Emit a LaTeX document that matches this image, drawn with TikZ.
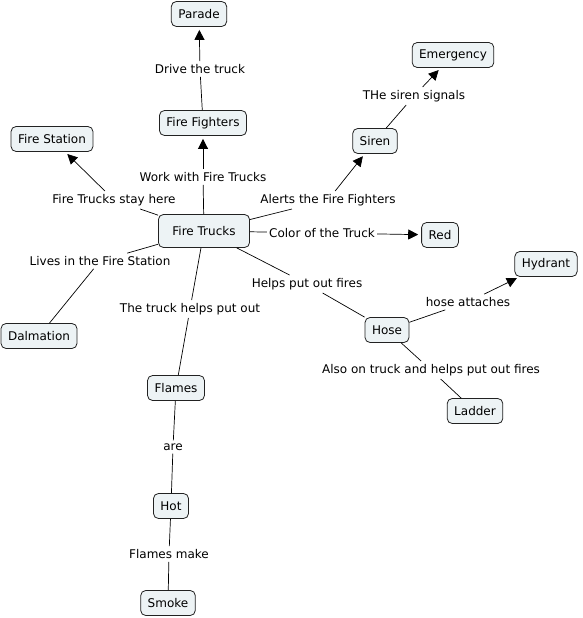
\documentclass[tikz,border=0pt]{standalone}
\usepackage{fontspec}
\setmainfont{DejaVu Sans}
\usetikzlibrary{arrows.meta}
\definecolor{boxfill}{HTML}{EDF3F5}
\definecolor{boxline}{HTML}{222222}
\tikzset{
  concept/.style={draw=boxline, fill=boxfill, rounded corners=5pt, line width=0.8pt,
    inner xsep=7pt, inner ysep=0pt, minimum height=25pt, font=\fontsize{12}{14}\selectfont},
  link/.style={inner xsep=2pt, inner ysep=3pt, font=\fontsize{12}{14}\selectfont},
  con/.style={draw=black, line width=0.7pt},
  arr/.style={con, -{Triangle[length=10pt,width=10pt]}, shorten >=3pt},
}
\begin{document}
\begin{tikzpicture}[x=1pt,y=-1pt]
\useasboundingbox (0,0) rectangle (582,618);
% concepts
\node[concept] (parade) at (199,14) {Parade};
\node[concept] (ff) at (203,123) {Fire Fighters};
\node[concept] (emerg) at (453,55) {Emergency};
\node[concept] (siren) at (375,141) {Siren};
\node[concept] (station) at (52,139) {Fire Station};
\node[concept, inner xsep=14pt, minimum height=33pt] (trucks) at (204,231) {Fire Trucks};
\node[concept] (red) at (440,235) {Red};
\node[concept] (hydrant) at (546,264) {Hydrant};
\node[concept] (dalm) at (39,336) {Dalmation};
\node[concept] (hose) at (387,330) {Hose};
\node[concept] (ladder) at (475,411) {Ladder};
\node[concept] (flames) at (176,388) {Flames};
\node[concept] (hot) at (171,506) {Hot};
\node[concept] (smoke) at (168,603) {Smoke};
% linking phrases
\node[link] (l1) at (200,69) {Drive the truck};
\node[link] (l2) at (203,177) {Work with Fire Trucks};
\node[link] (l3) at (414,96) {THe siren signals};
\node[link] (l4) at (114,200) {Fire Trucks stay here};
\node[link] (l5) at (328,200) {Alerts the Fire Fighters};
\node[link] (l6) at (322,233) {Color of the Truck};
\node[link] (l7) at (100,261) {Lives in the Fire Station};
\node[link] (l8) at (307,284) {Helps put out fires};
\node[link] (l9) at (190,309) {The truck helps put out};
\node[link] (l10) at (468,302) {hose attaches};
\node[link] (l11) at (431,370) {Also on truck and helps put out fires};
\node[link] (l12) at (173,447) {are};
\node[link] (l13) at (169,554) {Flames make};
% connectors
\draw[con] (ff) -- (l1); \draw[arr] (l1) -- (parade);
\draw[con] (trucks) -- (l2); \draw[arr] (l2) -- (ff);
\draw[con] (siren) -- (l3); \draw[arr] (l3) -- (emerg);
\draw[con] (trucks) -- (l4); \draw[arr] (l4) -- (station);
\draw[con] (trucks) -- (l5); \draw[arr] (l5) -- (siren);
\draw[con] (trucks) -- (l6); \draw[arr] (l6) -- (red);
\draw[con] (trucks) -- (l7); \draw[con] (l7) -- (dalm);
\draw[con] (trucks) -- (l8); \draw[con] (l8) -- (hose);
\draw[con] (trucks) -- (l9); \draw[con] (l9) -- (flames);
\draw[con] (hose) -- (l10); \draw[arr] (l10) -- (hydrant);
\draw[con] (hose) -- (l11); \draw[con] (l11) -- (ladder);
\draw[con] (flames) -- (l12); \draw[con] (l12) -- (hot);
\draw[con] (hot) -- (l13); \draw[con] (l13) -- (smoke);
\end{tikzpicture}
\end{document}
